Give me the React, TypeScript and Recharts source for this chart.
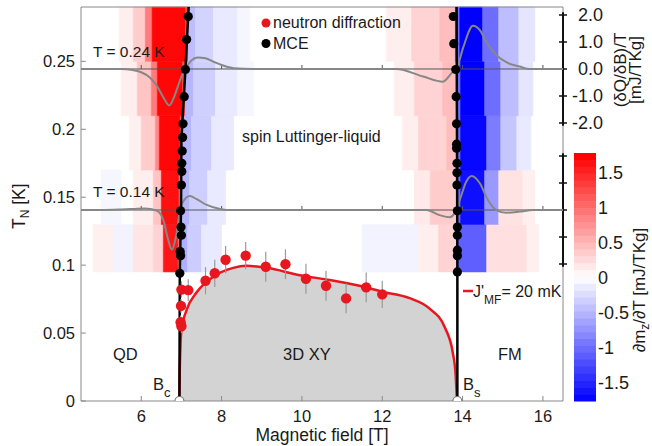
import React from "react";
import {
  ComposedChart,
  XAxis,
  YAxis,
  Line,
  Area,
  Scatter,
  ErrorBar,
  ReferenceArea,
  ReferenceLine,
} from "recharts";

const FONT = "'Liberation Sans', Arial, Helvetica, sans-serif";
const RED = "#e8161e";

// axis ticks
const xTicks = [6, 8, 10, 12, 14, 16];
const tTicks = [0, 0.05, 0.1, 0.15, 0.2, 0.25];
const qTicks = [-2, -1, 0, 1, 2];
const cbTicks = [1.5, 1, 0.5, 0, -0.5, -1, -1.5];

// mean-field phase boundary, J'MF = 20 mK
const boundaryB = [6.95, 6.955, 6.97, 7.0, 7.13, 7.38, 7.79, 8.29, 8.62, 9.12, 9.95, 10.7, 11.4, 12.0, 12.68, 13.18, 13.55, 13.76, 13.83, 13.86];
const boundaryT = [0, 0.015, 0.035, 0.052, 0.067, 0.08, 0.0914, 0.098, 0.0995, 0.098, 0.0926, 0.089, 0.085, 0.0804, 0.0757, 0.068, 0.0546, 0.035, 0.018, 0];

// neutron diffraction
const neutronB = [7.0, 6.98, 6.99, 7.0, 7.17, 7.6, 7.83, 8.1, 8.6, 9.1, 9.59, 10.1, 10.6, 11.1, 11.6, 12.0];
const neutronT = [0.055, 0.058, 0.07, 0.082, 0.0816, 0.0885, 0.094, 0.104, 0.107, 0.0988, 0.1007, 0.09, 0.0848, 0.0755, 0.0836, 0.0785];
const neutronErr = [0.005, 0.005, 0.005, 0.006, 0.008, 0.01, 0.01, 0.01, 0.01, 0.011, 0.011, 0.011, 0.011, 0.011, 0.011, 0.01];

// MCE points
const mceB = [7.17, 7.13, 7.1, 7.07, 7.04, 7.03, 7.02, 7.01, 7.01, 7.0, 6.98, 6.99, 7.0, 6.97, 6.98, 6.96,
  13.77, 13.78, 13.83, 13.84, 13.85, 13.85, 13.85, 13.86, 13.86, 13.86, 13.87, 13.87, 13.87, 13.87, 13.87, 13.87];
const mceT = [0.283, 0.266, 0.244, 0.224, 0.204, 0.194, 0.184, 0.175, 0.169, 0.159, 0.14, 0.128, 0.122, 0.11, 0.107, 0.094,
  0.283, 0.263, 0.244, 0.224, 0.204, 0.189, 0.186, 0.175, 0.168, 0.159, 0.14, 0.128, 0.122, 0.111, 0.107, 0.095];

// MCE phase lines
const mceLineBcB = [7.18, 7.1, 7.0, 6.99, 6.96, 6.95];
const mceLineBcT = [0.29, 0.244, 0.193, 0.14, 0.095, 0];
const mceLineBsB = [13.85, 13.86, 13.87, 13.87];
const mceLineBsT = [0.29, 0.2, 0.1, 0];

// (dQ/dB)/T traces
const trace24B = [4.5, 5.0, 5.5, 5.75, 6.0, 6.2, 6.4, 6.55, 6.7, 6.8, 6.9, 7.0, 7.1, 7.25, 7.4, 7.6, 7.8, 8.0, 8.3, 8.8, 9.5, 10.5, 11.5, 12.35, 13.02, 13.51, 13.76, 13.85, 14.01, 14.26, 14.43, 14.59, 14.84, 15.09, 15.42, 15.67, 16.0, 16.5];
const trace24Q = [0, 0, 0, -0.03, -0.12, -0.3, -0.65, -1.05, -1.35, -1.1, -0.7, -0.28, 0, 0.32, 0.43, 0.4, 0.27, 0.15, 0.03, 0, 0, 0, 0, 0, -0.28, -0.47, -0.1, 0, 0.77, 1.6, 1.44, 1.0, 0.52, 0.25, 0.09, 0, 0, 0];
const trace14B = [4.5, 5.0, 5.5, 5.8, 6.09, 6.38, 6.55, 6.67, 6.76, 6.88, 6.96, 7.04, 7.21, 7.38, 7.63, 7.96, 8.12, 9.0, 10.0, 11.0, 12.0, 13.1, 13.43, 13.68, 13.8, 13.93, 14.09, 14.23, 14.43, 14.63, 14.84, 15.09, 15.42, 15.75, 16.5];
const trace14Q = [0, 0, 0.02, 0.04, 0.06, -0.02, -0.37, -1.1, -1.46, -0.86, -0.06, 0.31, 0.52, 0.4, 0.19, 0.04, 0, 0, 0, 0, 0, 0, -0.19, -0.27, -0.12, 0.37, 1.05, 1.26, 0.99, 0.37, 0, -0.1, -0.06, 0, 0];

// dmz/dT map: row edges in T, cells [B0, B1, value]
const heatRowEdges = [0.095, 0.13, 0.17, 0.21, 0.25, 0.29];
const heatBc = [
  [[4.8, 5.3, 0.1], [5.3, 5.8, -0.08], [5.8, 6.3, 0.18], [6.3, 6.55, 0.3], [6.55, 6.92, 1.6], [6.92, 6.96, 1.0], [6.96, 7.15, -0.55], [7.15, 7.5, -0.35], [7.5, 8.0, -0.15]],
  [[5.0, 5.5, -0.06], [5.8, 6.3, 0.12], [6.3, 6.5, 0.4], [6.5, 6.94, 1.65], [6.94, 6.98, 1.0], [6.98, 7.2, -0.5], [7.2, 7.65, -0.33], [7.65, 8.1, -0.15]],
  [[5.7, 6.0, 0.1], [6.0, 6.35, 0.35], [6.35, 6.45, 0.8], [6.45, 6.97, 1.7], [6.97, 7.02, 1.1], [7.02, 7.25, -0.5], [7.25, 7.75, -0.33], [7.75, 8.3, -0.15]],
  [[5.5, 5.9, 0.12], [5.9, 6.25, 0.4], [6.25, 6.4, 0.9], [6.4, 7.03, 1.7], [7.03, 7.1, 1.2], [7.1, 7.3, -0.5], [7.3, 7.85, -0.32], [7.85, 8.4, -0.15], [8.4, 8.8, -0.06]],
  [[5.45, 5.8, 0.12], [5.8, 6.1, 0.35], [6.1, 6.27, 0.9], [6.27, 7.1, 1.7], [7.1, 7.17, 1.3], [7.17, 7.35, -0.45], [7.35, 7.8, -0.3], [7.8, 8.4, -0.15], [8.4, 8.7, -0.06]],
];
const heatBs = [
  [[11.5, 12.9, -0.08], [12.9, 13.4, 0.12], [13.4, 13.86, 0.3], [13.86, 14.6, -1.1], [14.6, 15.6, 0.22], [15.6, 15.9, 0.1]],
  [[12.8, 13.2, 0.15], [13.2, 13.86, 0.35], [13.86, 13.95, -1.0], [13.95, 14.55, -1.65], [14.55, 14.9, -0.7], [14.9, 15.5, 0.2], [15.5, 15.8, 0.1]],
  [[12.5, 12.9, 0.12], [12.9, 13.6, 0.3], [13.6, 13.86, 0.45], [13.86, 13.95, -1.0], [13.95, 14.6, -1.7], [14.6, 14.95, -0.9], [14.95, 15.35, -0.4], [15.35, 15.7, -0.15]],
  [[12.3, 12.8, 0.12], [12.8, 13.5, 0.3], [13.5, 13.85, 0.45], [13.85, 13.95, -1.0], [13.95, 14.55, -1.75], [14.55, 14.95, -1.0], [14.95, 15.4, -0.45], [15.4, 15.75, -0.18]],
  [[12.1, 12.73, 0.12], [12.73, 13.43, 0.3], [13.43, 13.82, 0.45], [13.82, 13.93, -1.0], [13.93, 14.5, -1.75], [14.5, 14.9, -1.0], [14.9, 15.4, -0.45], [15.4, 15.8, -0.18]],
];

const criticalB = [6.95, 13.87];
const cbMin = -1.76;
const cbMax = 1.78;

const zipBT = (bs: number[], ts: number[]) => bs.map((B, i) => ({ B, T: ts[i] }));
const boundary = zipBT(boundaryB, boundaryT);
const neutron = neutronB.map((B, i) => ({ B, T: neutronT[i], err: neutronErr[i] }));
const mce = zipBT(mceB, mceT);
const mceLineBc = zipBT(mceLineBcB, mceLineBcT);
const mceLineBs = zipBT(mceLineBsB, mceLineBsT);
const trace24 = trace24B.map((B, i) => ({ B, q: trace24Q[i] }));
const trace14 = trace14B.map((B, i) => ({ B, q: trace14Q[i] }));
const critical = criticalB.map((B) => ({ B, T: 0 }));

const heatCells: { b0: number; b1: number; t0: number; t1: number; v: number }[] = [];
[heatBc, heatBs].forEach((rows) =>
  rows.forEach((cells, r) =>
    cells.forEach(([b0, b1, v]) =>
      heatCells.push({ b0, b1, t0: heatRowEdges[r], t1: heatRowEdges[r + 1], v }),
    ),
  ),
);

function heatColor(v: number) {
  const t = Math.max(-1, Math.min(1, v / 1.75));
  if (t >= 0) {
    const c = Math.round(255 * (1 - t));
    return `rgb(255,${c},${c})`;
  }
  const c = Math.round(255 * (1 + t));
  return `rgb(${c},${c},255)`;
}

const dot = (r: number, fill: string, stroke = "none") => (p: any) => (
  <circle cx={p.cx} cy={p.cy} r={r} fill={fill} stroke={stroke} strokeWidth={1.2} />
);

const QTick = (p: any) => (
  <text x={p.x} y={p.y} dy="0.36em" textAnchor="end" fontSize={18} fill="#1a1a1a" fontFamily={FONT}>
    {Number(p.payload.value).toFixed(1)}
  </text>
);

function Overlay() {
  // colorbar geometry (legend only)
  const cbX = 574, cbW = 22, cbTop = 153, cbBot = 401;
  const cbY = (v: number) => cbTop + ((cbMax - v) / (cbMax - cbMin)) * (cbBot - cbTop);
  const nBands = 36;
  const bands = Array.from({ length: nBands }, (_, i) => {
    const hi = cbMax - ((cbMax - cbMin) * i) / nBands;
    const lo = cbMax - ((cbMax - cbMin) * (i + 1)) / nBands;
    return { hi, lo, v: (hi + lo) / 2 };
  });
  const txt = { fontFamily: FONT, fill: "#1a1a1a" };
  return (
    <svg width={652} height={446} style={{ position: "absolute", left: 0, top: 0, pointerEvents: "none" }}>
      {bands.map((b, i) => (
        <rect key={i} x={cbX} y={cbY(b.hi)} width={cbW} height={cbY(b.lo) - cbY(b.hi) + 0.5} fill={heatColor(b.v)} />
      ))}
      {cbTicks.map((v) => (
        <text key={v} x={598} y={cbY(v)} dy="0.36em" fontSize={18} {...txt}>
          {String(v)}
        </text>
      ))}
      <text transform="translate(645,290) rotate(-90)" textAnchor="middle" fontSize={17} {...txt}>
        ∂m<tspan dy={4} fontSize={12}>z</tspan>
        <tspan dy={-4}>/∂T [mJ/TKg]</tspan>
      </text>
      <text transform="translate(626,70) rotate(-90)" textAnchor="middle" fontSize={17} {...txt}>
        (δQ/δB)/T
      </text>
      <text transform="translate(641,70) rotate(-90)" textAnchor="middle" fontSize={17} {...txt}>
        [mJ/TKg]
      </text>
      <text transform="translate(25,229) rotate(-90)" fontSize={17.5} {...txt}>
        T<tspan dy={4} fontSize={12}>N</tspan>
        <tspan dy={-4}> [K]</tspan>
      </text>
      <text x={322} y={441} textAnchor="middle" fontSize={17.5} {...txt}>
        Magnetic field [T]
      </text>

      <circle cx={266} cy={23} r={4.5} fill={RED} />
      <text x={273} y={28} fontSize={16} {...txt}>neutron diffraction</text>
      <circle cx={266} cy={43.5} r={4.5} fill="#000" />
      <text x={273} y={48.5} fontSize={16} {...txt}>MCE</text>

      <text x={93} y={57} fontSize={15.5} {...txt}>T = 0.24 K</text>
      <text x={93} y={197} fontSize={15.5} {...txt}>T = 0.14 K</text>
      <text x={242} y={142} fontSize={16} {...txt}>spin Luttinger-liquid</text>
      <text x={113} y={360} fontSize={16.5} {...txt}>QD</text>
      <text x={283} y={360} fontSize={16.5} {...txt}>3D XY</text>
      <text x={498} y={360} fontSize={16.5} {...txt}>FM</text>
      <text x={153} y={390} fontSize={16.5} {...txt}>
        B<tspan dy={7} fontSize={13}>c</tspan>
      </text>
      <text x={463} y={390} fontSize={16.5} {...txt}>
        B<tspan dy={7} fontSize={13}>s</tspan>
      </text>

      <line x1={463} x2={473} y1={291} y2={291} stroke={RED} strokeWidth={2.5} />
      <text x={473} y={297} fontSize={16} {...txt}>
        J'<tspan dy={7} fontSize={12}>MF</tspan>
        <tspan dy={-7}>= 20 mK</tspan>
      </text>
    </svg>
  );
}

export default function App() {
  const tick = { fontSize: 16.5, fill: "#1a1a1a", fontFamily: FONT };
  return (
    <div style={{ position: "absolute", left: 0, top: 0, width: 652, height: 446, background: "#fff" }}>
      <ComposedChart width={652} height={446} margin={{ top: 7, right: 0, bottom: 0, left: 0 }}>
        <XAxis
          dataKey="B"
          type="number"
          domain={[4.5, 16.5]}
          ticks={xTicks}
          allowDataOverflow
          tickLine={false}
          axisLine={{ stroke: "#888" }}
          tick={tick}
          tickMargin={3}
          height={45}
        />
        <YAxis
          yAxisId="T"
          type="number"
          domain={[0, 0.29]}
          ticks={tTicks}
          allowDataOverflow
          width={81}
          tickLine={false}
          tickMargin={0}
          axisLine={{ stroke: "#888" }}
          tick={tick}
          tickFormatter={(v) => String(v)}
        />
        <YAxis
          yAxisId="q24"
          orientation="right"
          type="number"
          domain={[-12.296, 2.296]}
          ticks={qTicks}
          allowDataOverflow
          width={89}
          axisLine={false}
          tickSize={4}
          tickMargin={36}
          tickLine={{ stroke: "#111", strokeWidth: 1.5 }}
          tick={<QTick />}
        />
        <YAxis yAxisId="q14" orientation="right" type="number" domain={[-7.074, 7.519]} allowDataOverflow hide width={0} />

        {heatCells.map((c, i) => (
          <ReferenceArea
            key={`h${i}`}
            yAxisId="T"
            x1={c.b0}
            x2={c.b1}
            y1={c.t0}
            y2={c.t1}
            fill={heatColor(c.v)}
            fillOpacity={1}
            stroke={heatColor(c.v)}
            strokeWidth={0.6}
          />
        ))}

        <Area
          data={boundary}
          dataKey="T"
          yAxisId="T"
          type="monotone"
          fill="#d3d3d3"
          fillOpacity={1}
          stroke="none"
          baseValue={0}
          isAnimationActive={false}
        />

        {/* frame and inward ticks */}
        <ReferenceLine yAxisId="T" y={0.29} stroke="#888" ifOverflow="visible" />
        <ReferenceLine yAxisId="T" x={16.5} stroke="#888" ifOverflow="visible" />
        {xTicks.map((b) => (
          <ReferenceLine key={`xt${b}`} yAxisId="T" segment={[{ x: b, y: 0 }, { x: b, y: 0.0037 }]} stroke="#888" ifOverflow="visible" />
        ))}
        {tTicks.map((t) => (
          <ReferenceLine key={`yt${t}`} yAxisId="T" segment={[{ x: 4.5, y: t }, { x: 4.62, y: t }]} stroke="#888" ifOverflow="visible" />
        ))}

        {/* trace baselines, their ticks and brackets */}
        {["q24", "q14"].map((id) => (
          <ReferenceLine key={`base${id}`} yAxisId={id} y={0} stroke="#555" strokeWidth={1} />
        ))}
        {["q24", "q14"].flatMap((id) =>
          xTicks.map((b) => (
            <ReferenceLine key={`bt${id}${b}`} yAxisId={id} segment={[{ x: b, y: 0 }, { x: b, y: 0.15 }]} stroke="#555" ifOverflow="visible" />
          )),
        )}
        {["q24", "q14"].map((id) => (
          <ReferenceLine key={`br${id}`} yAxisId={id} segment={[{ x: 16.5, y: -2.1 }, { x: 16.5, y: 2.1 }]} stroke="#111" strokeWidth={2} ifOverflow="visible" />
        ))}
        {["q24", "q14"].flatMap((id) =>
          qTicks.map((q) => (
            <ReferenceLine key={`qt${id}${q}`} yAxisId={id} segment={[{ x: 16.4, y: q }, { x: id === "q14" ? 16.6 : 16.5, y: q }]} stroke="#111" strokeWidth={1.5} ifOverflow="visible" />
          )),
        )}

        <Line data={trace24} dataKey="q" yAxisId="q24" type="monotone" stroke="#878787" strokeWidth={2} dot={false} isAnimationActive={false} />
        <Line data={trace14} dataKey="q" yAxisId="q14" type="monotone" stroke="#878787" strokeWidth={2} dot={false} isAnimationActive={false} />

        <Line data={boundary} dataKey="T" yAxisId="T" type="monotone" stroke={RED} strokeWidth={2.5} dot={false} isAnimationActive={false} />
        <Line data={mceLineBc} dataKey="T" yAxisId="T" type="linear" stroke="#000" strokeWidth={2.5} dot={false} isAnimationActive={false} />
        <Line data={mceLineBs} dataKey="T" yAxisId="T" type="linear" stroke="#000" strokeWidth={2.5} dot={false} isAnimationActive={false} />

        <Scatter data={neutron} dataKey="T" yAxisId="T" fill={RED} shape={dot(5.2, RED)} isAnimationActive={false}>
          <ErrorBar dataKey="err" direction="y" width={0} stroke="#9a9a9a" strokeWidth={1.2} />
        </Scatter>
        <Scatter data={mce} dataKey="T" yAxisId="T" fill="#000" shape={dot(4.6, "#000")} isAnimationActive={false} />
        <Scatter data={critical} dataKey="T" yAxisId="T" fill="#fff" shape={dot(4.5, "#fff", "#777")} isAnimationActive={false} />
      </ComposedChart>
      <Overlay />
    </div>
  );
}
